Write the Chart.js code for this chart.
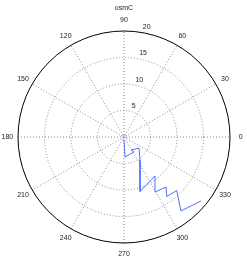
<!DOCTYPE html>
<html>
<head>
<meta charset="utf-8">
<script src="https://cdn.jsdelivr.net/npm/chart.js@4"></script>
<style>
  html,body{margin:0;padding:0;background:#fff;}
  #wrap{width:247px;height:261px;}
</style>
</head>
<body>
<div id="wrap"><canvas id="polar" width="247" height="261"></canvas></div>
<script>
// data (angle in degrees, radius in data units)
const titleText = 'osmC';
const thetaDeg = [270, 272.9, 303.7, 298.3, 323.7, 304.8, 286.4, 308.5, 299.4, 310.0, 305.7, 314.6, 307.6, 320.3];
const rVals = [0.57, 3.78, 3.40, 2.79, 3.51, 5.29, 10.72, 9.40, 11.91, 12.32, 13.82, 14.17, 17.62, 18.89];
const radialTicks = [5, 10, 15, 20];
const angleTicks = [0, 30, 60, 90, 120, 150, 180, 210, 240, 270, 300, 330];
const rMax = 20;

const FONT = '7px "Liberation Sans", Arial, sans-serif';

function toXY(r, deg){
  const a = deg*Math.PI/180;
  return {x: r*Math.cos(a), y: r*Math.sin(a)};
}
const points = thetaDeg.map((t,i)=>toXY(rVals[i], t));

// polar grid drawn off the hidden linear scales
const polarGrid = {
  id: 'polarGrid',
  beforeDatasetsDraw(chart){
    const ctx = chart.ctx, xs = chart.scales.x, ys = chart.scales.y;
    const cx = xs.getPixelForValue(0), cy = ys.getPixelForValue(0);
    const px = v => xs.getPixelForValue(v) - cx;
    const R = px(rMax);
    ctx.save();
    ctx.lineWidth = 1;
    ctx.strokeStyle = '#888';
    ctx.setLineDash([1,2]);
    // spokes
    angleTicks.filter(a=>a<180).forEach(a=>{
      const p = toXY(rMax, a);
      ctx.beginPath();
      ctx.moveTo(xs.getPixelForValue(-p.x), ys.getPixelForValue(-p.y));
      ctx.lineTo(xs.getPixelForValue(p.x), ys.getPixelForValue(p.y));
      ctx.stroke();
    });
    // rings
    radialTicks.filter(r=>r<rMax).forEach(r=>{
      ctx.beginPath();
      ctx.arc(cx, cy, px(r), 0, Math.PI*2);
      ctx.stroke();
    });
    ctx.beginPath();
    ctx.arc(cx, cy, 2, 0, Math.PI*2);
    ctx.stroke();
    // outer circle
    ctx.setLineDash([]);
    ctx.strokeStyle = '#000';
    ctx.beginPath();
    ctx.arc(cx, cy, R, 0, Math.PI*2);
    ctx.stroke();
    // labels
    ctx.fillStyle = '#222';
    ctx.font = FONT;
    ctx.textAlign = 'center';
    ctx.textBaseline = 'middle';
    angleTicks.forEach(a=>{
      const p = toXY(rMax*1.1, a);
      ctx.fillText(String(a), xs.getPixelForValue(p.x), ys.getPixelForValue(p.y));
    });
    ctx.textAlign = 'left';
    ctx.textBaseline = 'bottom';
    radialTicks.forEach(r=>{
      const p = toXY(r + 0.25, 82);
      ctx.fillText('  ' + r, xs.getPixelForValue(p.x), ys.getPixelForValue(p.y));
    });
    ctx.textAlign = 'center';
    ctx.textBaseline = 'middle';
    ctx.fillText(titleText, cx, 8);
    ctx.restore();
  }
};

new Chart(document.getElementById('polar'), {
  type: 'scatter',
  data: {
    datasets: [{
      data: points,
      showLine: true,
      borderColor: '#4f6fff',
      borderWidth: 1,
      pointRadius: 0,
      tension: 0
    }]
  },
  options: {
    responsive: false,
    animation: false,
    layout: {padding: {left: 18, right: 17, top: 31, bottom: 18}},
    plugins: {legend: {display: false}, tooltip: {enabled: false}},
    scales: {
      x: {type: 'linear', min: -rMax, max: rMax, display: false},
      y: {type: 'linear', min: -rMax, max: rMax, display: false}
    }
  },
  plugins: [polarGrid]
});
</script>
</body>
</html>
